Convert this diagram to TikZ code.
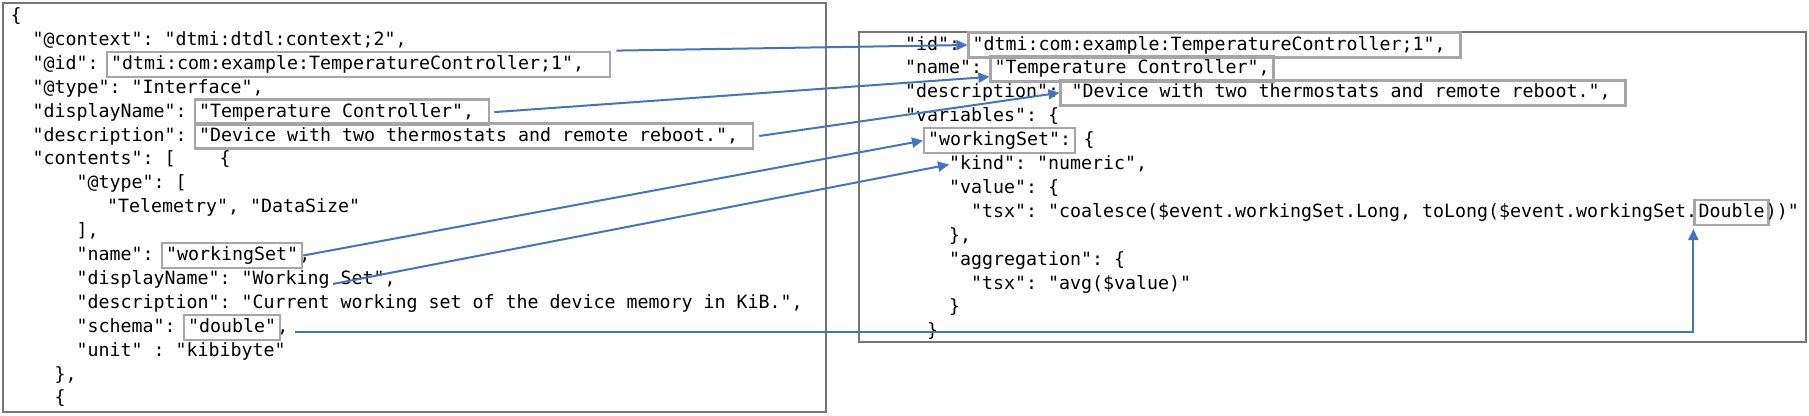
\documentclass[tikz,border=0pt]{standalone}
\usepackage{fontspec}
\setmonofont{DejaVu Sans Mono}
\usepackage{tikz}
\usepackage{xcolor}
\usetikzlibrary{positioning,arrows.meta}
\definecolor{linkblue}{HTML}{4472C4}
\definecolor{framegray}{HTML}{767676}
\definecolor{boxgray}{HTML}{A6A6A6}
\tikzset{
  code/.style={ % one line of json text
    font=\ttfamily\fontsize{18.27}{22}\selectfont,
    inner sep=0pt, anchor=base west,
    text height=14pt, text depth=4pt, text=black
  },
  hilite/.style={ % grey box round a matched value
    code, draw=boxgray, line width=2.4pt,
    inner xsep=4pt, minimum height=25pt
  },
  jsonframe/.style={ % outline of a json listing
    draw=framegray, line width=2pt
  },
  link/.style={ % blue connector between matched values
    draw=linkblue, line width=2pt,
    -{Triangle[length=11pt,width=10pt]}
  }
}

\begin{document}
\begin{tikzpicture}[x=1pt, y=-1pt]
  \useasboundingbox (0,0) rectangle (1809,415);
  \draw[jsonframe] (3,3) rectangle (826,412);
  \draw[jsonframe] (859,32) rectangle (1806,342);

  % dtdl interface (left)
  \node[code] (l_open) at (10.5,21.5) {\{};
  \node[code] (l_context) at (32.5,45.4) {"@context": "dtmi:dtdl:context;2",};
  \node[code] (l_id) at (32.5,69.3) {"@id":};
  \node[hilite, base right=7pt of l_id] (id_left) {"dtmi:com:example:TemperatureController;1",\phantom{xx}};
  \node[code] (l_type) at (32.5,93.2) {"@type": "Interface",};
  \node[code] (l_dname) at (32.5,117.1) {"displayName":};
  \node[hilite, base right=7pt of l_dname] (dname_left) {"Temperature Controller",\phantom{x}};
  \node[code] (l_desc) at (32.5,141.0) {"description":};
  \node[hilite, base right=7pt of l_desc] (desc_left) {"Device with two thermostats and remote reboot.",\phantom{x}};
  \node[code] (l_contents) at (32.5,164.9) {"contents": [~~~~\{};
  \node[code] (l_ctype) at (76.5,188.8) {"@type": [};
  \node[code] (l_tele) at (107,212.7) {"Telemetry", "DataSize"};
  \node[code] (l_ctype_end) at (76.5,236.6) {],};
  \node[code] (l_name) at (76.5,260.5) {"name":};
  \node[hilite, base right=7pt of l_name] (ws_left) {"workingSet"};
  \node[code, base right=-4pt of ws_left] (l_name_end) {,};
  \node[code] (l_cdname) at (76.5,284.4) {"displayName": "Working Set",};
  \coordinate (ws_disp) at (333,284);
  \node[code] (l_cdesc) at (76.5,308.3) {"description": "Current working set of the device memory in KiB.",};
  \node[code] (l_schema) at (76.5,332.2) {"schema":};
  \node[hilite, base right=7pt of l_schema] (dbl_left) {"double"};
  \node[code, base right=-4pt of dbl_left] (l_schema_end) {,};
  \node[code] (l_unit) at (76.5,356.1) {"unit" : "kibibyte"};
  \node[code] (l_close) at (54.5,380) {\},};
  \node[code] (l_next) at (54.5,403.9) {\{};

  % tsi type (right)
  \node[code] (r_id) at (905,50) {"id":};
  \node[hilite, base right=7pt of r_id] (id_right) {"dtmi:com:example:TemperatureController;1",\phantom{x}};
  \node[code] (r_name) at (905,73.9) {"name":};
  \node[hilite, base right=7pt of r_name] (name_right) {"Temperature Controller",};
  \node[code] (r_desc) at (905,97.8) {"description":};
  \node[hilite, base right=0pt of r_desc] (desc_right) {\hspace*{7pt}"Device with two thermostats and remote reboot.",\phantom{x}};
  \node[code] (r_vars) at (905,121.7) {"variables": \{};
  \node[hilite] (ws_right) at (923,145.6) {"workingSet":};
  \node[code, base right=7pt of ws_right] (r_ws_open) {\{};
  \node[code] (kind_right) at (949,169.5) {"kind": "numeric",};
  \node[code] (r_value) at (949,193.4) {"value": \{};
  \node[code] (r_tsx) at (971,217.3) {"tsx": "coalesce(\$event.workingSet.Long, toLong(\$event.workingSet.};
  \node[hilite, base right=-4pt of r_tsx] (dbl_right) {Double};
  \node[code, base right=-4pt of dbl_right] (r_tsx_end) {))"};
  \node[code] (r_value_end) at (949,241.2) {\},};
  \node[code] (r_aggr) at (949,265.1) {"aggregation": \{};
  \node[code] (r_avg) at (971,289) {"tsx": "avg(\$value)"};
  \node[code] (r_aggr_end) at (949,312.9) {\}};
  \node[code] (r_ws_end) at (927,336.8) {\}};

  \draw[link] ([xshift=5pt]id_left.north east) -- (id_right.west);
  \draw[link] ([xshift=4pt]dname_left.east) -- ([yshift=-8pt]name_right.west);
  \draw[link] ([xshift=5pt]desc_left.east) -- (desc_right.west);
  \draw[link] (ws_left.east) -- (ws_right.west);
  \draw[link] (ws_disp) -- (kind_right.west);
  \draw[link] ([xshift=14pt,yshift=-5pt]dbl_left.east) -| ([yshift=-3pt]dbl_right.south west);
\end{tikzpicture}
\end{document}
